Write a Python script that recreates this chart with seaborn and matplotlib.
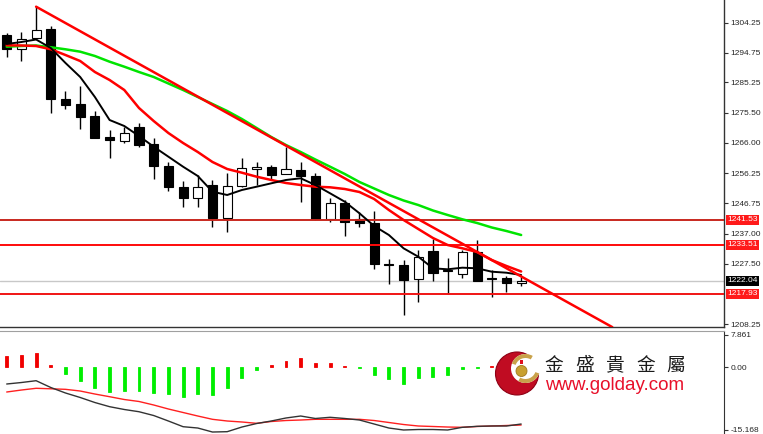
import numpy as np
import seaborn as sns
import matplotlib
matplotlib.use("Agg")
import matplotlib.pyplot as plt
import matplotlib.transforms as mtransforms
from matplotlib.patches import Circle, Wedge, Rectangle

# ---- candles ----
opens = [1300.33, 1295.78, 1299.28, 1302.15, 1280.05, 1278.26, 1274.54, 1267.95, 1266.57, 1271.13,
         1265.52, 1258.60, 1251.83, 1248.33, 1252.60, 1241.96, 1252.24, 1257.56, 1258.30, 1256.06,
         1257.34, 1255.43, 1241.64, 1246.93, 1241.64, 1240.56, 1227.30, 1227.00, 1222.53, 1231.64,
         1225.40, 1224.20, 1231.30, 1222.70, 1223.04, 1221.40]
highs = [1300.97, 1301.20, 1309.35, 1303.20, 1282.60, 1284.10, 1276.10, 1270.08, 1271.13, 1272.20,
         1267.40, 1259.98, 1253.93, 1255.75, 1254.16, 1256.49, 1261.06, 1259.80, 1258.93, 1264.76,
         1259.98, 1256.30, 1248.33, 1247.80, 1244.06, 1244.40, 1228.90, 1228.68, 1231.86, 1235.27,
         1229.20, 1231.86, 1235.04, 1225.50, 1223.60, 1223.35]
lows = [1293.33, 1292.05, 1299.00, 1275.40, 1276.85, 1270.30, 1267.40, 1261.06, 1266.00, 1264.60,
        1254.40, 1250.75, 1245.46, 1245.46, 1239.28, 1237.69, 1252.00, 1252.60, 1254.16, 1256.00,
        1247.25, 1241.50, 1240.87, 1236.30, 1239.28, 1225.70, 1221.00, 1211.16, 1215.40, 1222.10,
        1217.85, 1222.85, 1222.00, 1217.00, 1218.60, 1220.40]
closes = [1295.87, 1298.96, 1301.93, 1279.86, 1278.14, 1274.30, 1267.63, 1266.90, 1269.22, 1265.30,
          1258.60, 1251.83, 1248.33, 1252.02, 1241.96, 1252.24, 1257.88, 1258.30, 1255.90, 1257.56,
          1255.43, 1241.64, 1246.93, 1240.87, 1240.56, 1227.40, 1227.00, 1222.30, 1229.73, 1224.44,
          1225.20, 1231.30, 1222.10, 1222.50, 1221.25, 1222.04]

# ---- moving averages ----
ma_fast = [1297.47, 1298.10, 1298.90, 1296.19, 1291.42, 1286.96, 1280.59, 1273.26, 1271.35, 1268.17,
           1264.76, 1261.58, 1258.39, 1255.43, 1250.43, 1249.38, 1250.97, 1252.02, 1253.10, 1254.16,
           1254.70, 1252.56, 1249.92, 1247.24, 1243.55, 1239.51, 1236.64, 1232.40, 1229.73, 1226.03,
           1225.72, 1226.23, 1226.03, 1224.95, 1224.63, 1223.90]
ma_mid = [1297.05, 1296.99, 1296.83, 1295.78, 1293.96, 1292.05, 1288.55, 1286.00, 1282.82, 1277.09,
          1272.94, 1269.12, 1265.94, 1263.07, 1259.89, 1257.66, 1256.48, 1255.21, 1254.16, 1253.20,
          1252.56, 1252.02, 1251.83, 1251.29, 1250.33, 1248.10, 1244.60, 1241.42, 1238.55, 1235.68,
          1233.45, 1232.40, 1231.23, 1228.68, 1226.77, 1225.02]
ma_slow = [1296.61, 1296.83, 1296.99, 1296.42, 1295.78, 1295.02, 1293.65, 1291.83, 1290.24, 1288.55,
           1286.96, 1284.89, 1282.82, 1280.59, 1278.36, 1276.13, 1273.58, 1270.72, 1267.85, 1265.30,
           1263.07, 1260.68, 1258.39, 1256.07, 1253.52, 1251.45, 1249.38, 1247.63, 1246.19, 1244.44,
           1243.01, 1241.64, 1240.46, 1239.03, 1237.91, 1236.64]

# trend line from the swing high
trend_x = [2, 41.2]
trend_y = [1309.35, 1207.30]

# horizontal levels
levels = [1241.53, 1233.51, 1217.93]
level_colors = ['#c8281e', '#ff0a0a', '#f01414']
last_price = 1222.04
price_ticks = [1304.25, 1294.75, 1285.25, 1275.50, 1266.00, 1256.25, 1246.75, 1237.00, 1227.50, 1208.25]

# ---- MACD panel ----
osma = [2.6, 2.8, 3.4, 0.6, -1.8, -3.4, -5.0, -6.1, -5.7, -5.7, -6.3, -6.6, -7.3, -6.6, -6.9, -5.0,
        -2.7, -0.8, 0.6, 1.5, 2.3, 1.0, 1.0, 0.3, -0.2, -1.9, -2.8, -4.0, -2.6, -2.4, -2.0, -0.4,
        -0.2, 0.3, 0.2, 0.1]
macd_main = [-4.12, -3.76, -3.32, -4.97, -6.30, -7.39, -8.61, -9.62, -10.30, -10.84, -11.76, -13.09,
             -14.47, -14.79, -15.76, -15.68, -14.55, -13.70, -13.09, -12.36, -11.88, -12.48, -12.19,
             -12.48, -12.85, -13.82, -14.79, -15.27, -15.15, -15.15, -15.27, -14.62, -14.38, -14.30,
             -14.30, -13.82]
macd_signal = [-6.06, -5.58, -5.16, -5.28, -5.41, -5.82, -6.55, -7.20, -7.88, -8.36, -9.21, -10.18,
               -11.03, -11.88, -12.68, -13.09, -13.33, -13.65, -13.21, -12.97, -12.85, -12.68, -12.68,
               -12.68, -12.68, -12.97, -13.45, -13.94, -14.30, -14.42, -14.55, -14.62, -14.42, -14.30,
               -14.18, -14.06]
macd_ticks = [7.861, 0.0, -15.168]

sns.set_style('white')
plt.rcParams['font.family'] = ['Liberation Sans', 'DejaVu Sans']

W, H = 763, 434
fig = plt.figure(figsize=(W / 100, H / 100), dpi=100)
fig.patch.set_facecolor('white')

idx = np.arange(len(closes))
xlim = (-0.456, 48.8)

# main price panel
ax = fig.add_axes([0, 1 - 327 / H, 724 / W, 327 / H])
ax.set_xlim(*xlim)
ax.set_ylim(1207.34, 1311.48)

# candles
o = np.array(opens)
c = np.array(closes)
bull = c >= o
ax.vlines(idx, lows, highs, color='black', lw=1, zorder=2)
body = np.maximum(np.abs(c - o), 0.35)
ax.bar(idx, body, bottom=np.minimum(o, c), width=0.62,
       color=np.where(bull, 'white', 'black'), edgecolor='black', linewidth=0.8, zorder=3)

# levels
ax.axhline(last_price, color='#c8c8c8', lw=1, zorder=1)
for lvl, col in zip(levels, level_colors):
    ax.axhline(lvl, color=col, lw=1.4, zorder=4)

# moving averages + trend line
sns.lineplot(x=idx, y=ma_slow, ax=ax, color='#00e400', linewidth=1.8, zorder=5)
sns.lineplot(x=idx, y=ma_mid, ax=ax, color='#ff0000', linewidth=1.8, zorder=5)
sns.lineplot(x=idx, y=ma_fast, ax=ax, color='black', linewidth=1.4, zorder=6)
sns.lineplot(x=trend_x, y=trend_y, ax=ax, color='#ff0000', linewidth=1.8, zorder=6)

ax.set_xticks([])
ax.yaxis.tick_right()
ax.set_yticks(price_ticks)
ax.set_yticklabels([f'{v:.2f}' for v in price_ticks])
ax.tick_params(axis='y', right=True, direction='out', length=3, width=0.8,
               labelsize=6, pad=1.5, color='#333333')
for side in ['top', 'left']:
    ax.spines[side].set_visible(False)
for side in ['bottom', 'right']:
    ax.spines[side].set_color('#333333')
    ax.spines[side].set_linewidth(1)

# coloured price tags on the axis
trans = mtransforms.blended_transform_factory(ax.transAxes, ax.transData)
for lvl in levels:
    ax.text(1.0045, lvl, f'{lvl:.2f}', transform=trans, ha='left', va='center', fontsize=6,
            color='white', clip_on=False, zorder=10,
            bbox=dict(boxstyle='square,pad=0.18', fc='#ff1a1a', ec='none'))
ax.text(1.0045, last_price, f'{last_price:.2f}', transform=trans, ha='left', va='center',
        fontsize=6, color='white', clip_on=False, zorder=10,
        bbox=dict(boxstyle='square,pad=0.18', fc='black', ec='none'))

# MACD panel
ax2 = fig.add_axes([0, 0, 724 / W, 103.5 / H])
ax2.set_xlim(*xlim)
ax2.set_ylim(-16.24, 8.85)
bar_cols = ['#f00000' if v > 0 else '#00ee00' for v in osma]
ax2.bar(idx, osma, width=0.2, color=bar_cols, edgecolor=bar_cols, linewidth=0.6, zorder=2)
sns.lineplot(x=idx, y=macd_signal, ax=ax2, color='#ff2020', linewidth=1.0, zorder=3)
sns.lineplot(x=idx, y=macd_main, ax=ax2, color='#333333', linewidth=1.0, zorder=3)
ax2.set_xticks([])
ax2.yaxis.tick_right()
ax2.set_yticks(macd_ticks)
ax2.set_yticklabels(['7.861', '0.00', '-15.168'])
ax2.tick_params(axis='y', right=True, direction='out', length=3, width=0.8,
                labelsize=6, pad=1.5, color='#333333')
for side in ['bottom', 'left']:
    ax2.spines[side].set_visible(False)
ax2.spines['top'].set_color('#a0a0a0')
ax2.spines['right'].set_color('#333333')

# watermark logo (pixel coordinates)
ov = fig.add_axes([0, 0, 1, 1], zorder=20)
ov.set_xlim(0, W)
ov.set_ylim(H, 0)
ov.axis('off')
ov.patch.set_alpha(0)
ov.add_patch(Circle((517, 373.5), 21.5, fc='#c00c22', ec='#8e0014', lw=0.8))
ov.add_patch(Circle((525.5, 368.5), 14.5, fc='white', ec='none'))
ov.add_patch(Wedge((525.5, 368.5), 14.5, 200, 300, width=4, fc='#c9a24a', ec='none'))
ov.add_patch(Wedge((525.5, 368.5), 14.5, 20, 120, width=4, fc='#c9a24a', ec='none'))
ov.add_patch(Circle((521.5, 371), 5.5, fc='#c8a030', ec='#a07820', lw=0.6))
ov.add_patch(Rectangle((519.5, 359.5), 3, 4, fc='#e01020', ec='none'))
for ch, cx in zip(['金', '盛', '貴', '金', '屬'], [554, 584.5, 615, 645.5, 676]):
    ov.text(cx, 365.5, ch, ha='center', va='center', fontsize=13.5, color='#1a1a1a',
            family=['Noto Sans CJK TC', 'DejaVu Sans'])
ov.text(545, 390, 'www.golday.com', ha='left', va='baseline', fontsize=13.5, color='#e8102a',
        family=['Liberation Sans', 'DejaVu Sans'])

fig.savefig('out.png', dpi=100)
